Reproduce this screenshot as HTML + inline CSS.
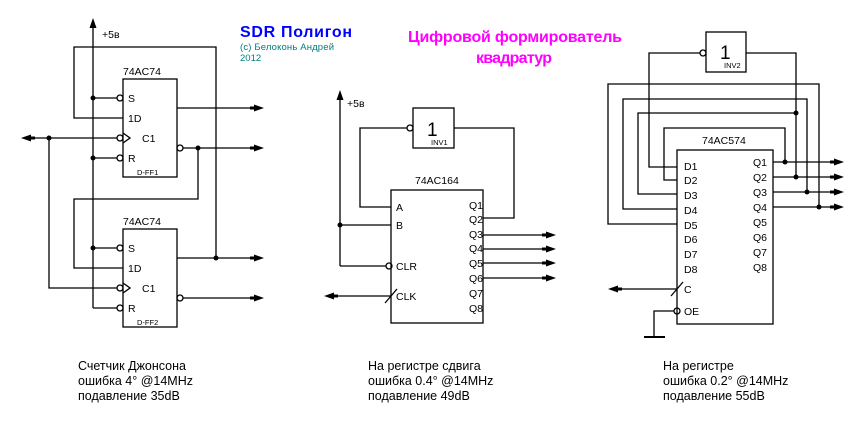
<!DOCTYPE html>
<html><head><meta charset="utf-8"><style>
html,body{margin:0;padding:0;background:#fff;}
svg{display:block;}
text{font-family:"Liberation Sans",sans-serif;fill:#000;}
</style></head><body>
<svg width="861" height="428" viewBox="0 0 861 428" xmlns="http://www.w3.org/2000/svg">
<defs>
<g id="ar"><polygon points="0,-3.5 10,0 0,3.5" fill="#000"/><rect x="-4" y="-1.5" width="5" height="3" fill="#000"/></g>
</defs>
<g stroke="#000" stroke-width="1.3" fill="none">
<!-- LEFT: Johnson counter -->
<line x1="93" y1="26" x2="93" y2="308"/>
<rect x="123" y="79" width="54" height="98"/>
<rect x="123" y="229" width="54" height="98"/>
<polyline points="123,118 74,118 74,47 216,47 216,258"/>
<line x1="93" y1="98" x2="117" y2="98"/>
<line x1="93" y1="158" x2="117" y2="158"/>
<line x1="93" y1="248" x2="117" y2="248"/>
<line x1="93" y1="308" x2="117" y2="308"/>
<line x1="26" y1="138" x2="117" y2="138"/>
<polyline points="49,138 49,288 117,288"/>
<line x1="177" y1="108" x2="256" y2="108"/>
<line x1="183" y1="148" x2="256" y2="148"/>
<polyline points="198,148 198,199 74,199 74,268 123,268"/>
<line x1="177" y1="258" x2="256" y2="258"/>
<line x1="183" y1="298" x2="256" y2="298"/>
<circle cx="120" cy="98" r="3"/><circle cx="120" cy="138" r="3"/><circle cx="120" cy="158" r="3"/>
<circle cx="120" cy="248" r="3"/><circle cx="120" cy="288" r="3"/><circle cx="120" cy="308" r="3"/>
<circle cx="180" cy="148" r="3"/><circle cx="180" cy="298" r="3"/>
<polyline points="123,133 130,138 123,143"/>
<polyline points="123,283 130,288 123,293"/>

<!-- MIDDLE -->
<line x1="340" y1="97" x2="340" y2="266"/>
<rect x="413" y="108" width="41" height="40"/>
<rect x="391" y="190" width="92" height="133"/>
<polyline points="407,128 360,128 360,207 391,207"/>
<polyline points="454,128 514,128 514,218 483,218"/>
<line x1="340" y1="225" x2="391" y2="225"/>
<line x1="340" y1="266" x2="386" y2="266"/>
<circle cx="389" cy="266" r="3"/>
<circle cx="410" cy="128" r="3"/>
<line x1="330" y1="296" x2="391" y2="296"/>
<line x1="385" y1="303" x2="397" y2="289"/>
<line x1="483" y1="235" x2="548" y2="235"/>
<line x1="483" y1="249" x2="548" y2="249"/>
<line x1="483" y1="263" x2="548" y2="263"/>
<line x1="483" y1="278" x2="548" y2="278"/>

<!-- RIGHT -->
<rect x="706" y="32" width="40" height="40"/>
<rect x="677" y="150" width="96" height="174"/>
<circle cx="703" cy="53" r="3"/>
<polyline points="700,53 649,53 649,167 677,167"/>
<polyline points="746,53 796,53 796,177"/>
<polyline points="677,224 608,224 608,84 819,84 819,207"/>
<polyline points="677,209 623,209 623,99 807,99 807,192"/>
<polyline points="677,194 638,194 638,113 796,113"/>
<polyline points="677,180 664,180 664,128 785,128 785,162"/>
<line x1="773" y1="162" x2="836" y2="162"/>
<line x1="773" y1="177" x2="836" y2="177"/>
<line x1="773" y1="192" x2="836" y2="192"/>
<line x1="773" y1="207" x2="836" y2="207"/>
<line x1="614" y1="289" x2="677" y2="289"/>
<line x1="671" y1="296" x2="683" y2="282"/>
<circle cx="677" cy="311" r="3"/>
<polyline points="674,311 654,311 654,336"/>
<line x1="644" y1="337" x2="665" y2="337" stroke-width="2"/>
</g>

<!-- dots -->
<g fill="#000">
<circle cx="93" cy="98" r="2.5"/><circle cx="93" cy="158" r="2.5"/><circle cx="93" cy="248" r="2.5"/>
<circle cx="49" cy="138" r="2.5"/><circle cx="198" cy="148" r="2.5"/><circle cx="216" cy="258" r="2.5"/>
<circle cx="340" cy="225" r="2.5"/>
<circle cx="785" cy="162" r="2.5"/><circle cx="796" cy="177" r="2.5"/><circle cx="796" cy="113" r="2.5"/>
<circle cx="807" cy="192" r="2.5"/><circle cx="819" cy="207" r="2.5"/>
<!-- up arrows -->
<polygon points="93,18 89.5,28 96.5,28"/>
<polygon points="340,90 336.5,100 343.5,100"/>
</g>
<!-- arrows -->
<use href="#ar" x="254" y="108"/><use href="#ar" x="254" y="148"/>
<use href="#ar" x="254" y="258"/><use href="#ar" x="254" y="298"/>
<use href="#ar" transform="translate(31,138) rotate(180)"/>
<use href="#ar" x="546" y="235"/><use href="#ar" x="546" y="249"/>
<use href="#ar" x="546" y="263"/><use href="#ar" x="546" y="278"/>
<use href="#ar" transform="translate(334,296) rotate(180)"/>
<use href="#ar" x="834" y="162"/><use href="#ar" x="834" y="177"/>
<use href="#ar" x="834" y="192"/><use href="#ar" x="834" y="207"/>
<use href="#ar" transform="translate(618,289) rotate(180)"/>

<!-- texts left -->
<g font-size="10.5">
<text x="102" y="38">+5в</text>
<text x="123" y="75">74AC74</text>
<text x="123" y="225">74AC74</text>
<text x="128" y="102">S</text><text x="128" y="122">1D</text><text x="142" y="142">C1</text><text x="128" y="162">R</text>
<text x="128" y="252">S</text><text x="128" y="272">1D</text><text x="142" y="292">C1</text><text x="128" y="312">R</text>
<text x="347" y="107">+5в</text>
<text x="415" y="184">74AC164</text>
<text x="396" y="211">A</text><text x="396" y="229">B</text>
<text x="396" y="270">CLR</text><text x="396" y="300">CLK</text>
<text x="469" y="209">Q1</text><text x="469" y="223">Q2</text><text x="469" y="238">Q3</text><text x="469" y="252">Q4</text>
<text x="469" y="267">Q5</text><text x="469" y="282">Q6</text><text x="469" y="297">Q7</text><text x="469" y="312">Q8</text>
<text x="702" y="144">74AC574</text>
<text x="684" y="170">D1</text><text x="684" y="184">D2</text><text x="684" y="199">D3</text><text x="684" y="214">D4</text>
<text x="684" y="229">D5</text><text x="684" y="243">D6</text><text x="684" y="258">D7</text><text x="684" y="273">D8</text>
<text x="753" y="166">Q1</text><text x="753" y="181">Q2</text><text x="753" y="196">Q3</text><text x="753" y="211">Q4</text>
<text x="753" y="226">Q5</text><text x="753" y="241">Q6</text><text x="753" y="256">Q7</text><text x="753" y="271">Q8</text>
<text x="684" y="293">C</text><text x="684" y="315">OE</text>
</g>
<g font-size="7.5">
<text x="137" y="175">D-FF1</text><text x="137" y="325">D-FF2</text>
<text x="431" y="145">INV1</text><text x="724" y="68">INV2</text>
</g>
<text x="427" y="136" font-size="19">1</text>
<text x="720" y="59" font-size="19">1</text>

<text x="240" y="37" font-size="16" font-weight="bold" style="fill:#0000ff" textLength="112">SDR Полигон</text>
<text x="240" y="50" font-size="9.5" style="fill:#008080" textLength="94">(c) Белоконь Андрей</text>
<text x="240" y="61" font-size="9.5" style="fill:#008080">2012</text>
<text x="408" y="42" font-size="16" font-weight="bold" style="fill:#ff00ff" textLength="214">Цифровой формирователь</text>
<text x="476" y="63" font-size="16" font-weight="bold" style="fill:#ff00ff" textLength="76">квадратур</text>

<g font-size="12.5">
<text x="78" y="370">Счетчик Джонсона</text><text x="78" y="385">ошибка 4° @14MHz</text><text x="78" y="400">подавление 35dB</text>
<text x="368" y="370">На регистре сдвига</text><text x="368" y="385">ошибка 0.4° @14MHz</text><text x="368" y="400">подавление 49dB</text>
<text x="663" y="370">На регистре</text><text x="663" y="385">ошибка 0.2° @14MHz</text><text x="663" y="400">подавление 55dB</text>
</g>
</svg>
</body></html>
